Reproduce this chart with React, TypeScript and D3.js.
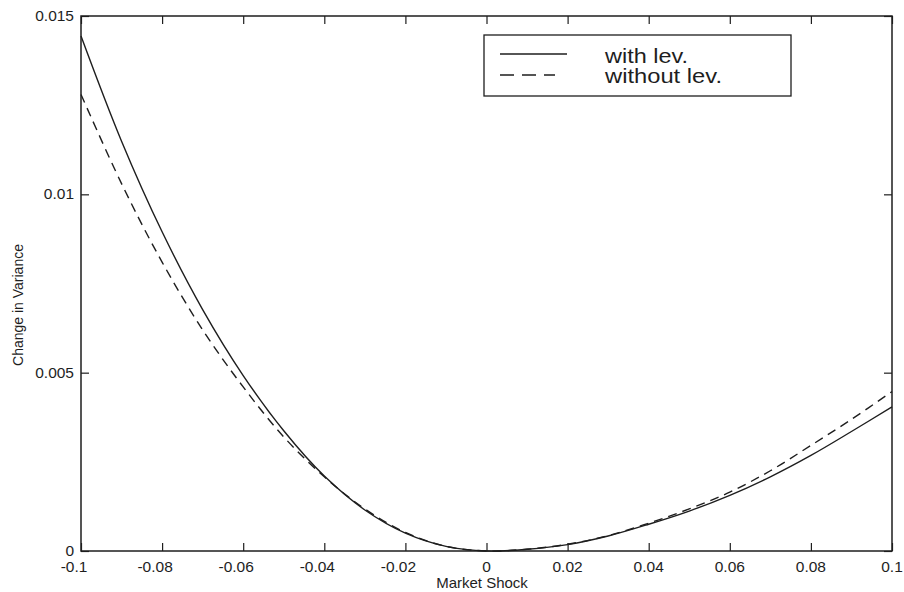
import * as d3 from "d3";
import { useRef, useEffect } from "react";

// market shock values (x axis)
const shocks = [
  -0.1, -0.09, -0.08, -0.07, -0.06, -0.05, -0.04, -0.03, -0.02, -0.01, 0,
  0.01, 0.02, 0.03, 0.04, 0.05, 0.06, 0.07, 0.08, 0.09, 0.1,
];
// change in variance, with leverage (solid)
const withLev = [
  0.01444, 0.01149, 0.00895, 0.00677, 0.00492, 0.00337, 0.0021, 0.00115,
  0.0005, 0.00013, 0.0, 0.00005, 0.00018, 0.00042, 0.00075, 0.00112, 0.00156,
  0.00208, 0.00268, 0.00335, 0.00404,
];
// change in variance, without leverage (dashed)
const withoutLev = [
  0.0128, 0.0103, 0.0081, 0.0062, 0.0046, 0.0032, 0.00208, 0.00118, 0.00052,
  0.00013, 0.0, 0.00005, 0.00019, 0.00043, 0.00078, 0.00118, 0.00165, 0.00225,
  0.00296, 0.00369, 0.00447,
];
const xTicks = [-0.1, -0.08, -0.06, -0.04, -0.02, 0, 0.02, 0.04, 0.06, 0.08, 0.1];
const yTicks = [0, 0.005, 0.01, 0.015];
const legendLabels = ["with lev.", "without lev."];

export default function App() {
  const svgRef = useRef<SVGSVGElement>(null);

  useEffect(() => {
    const width = 904;
    const height = 592;
    const left = 81;
    const right = 892;
    const top = 16;
    const bottom = 551;
    const ink = "#1e1e1e";
    const font = "'Liberation Sans', Arial, sans-serif";

    const svg = d3.select(svgRef.current);
    svg.selectAll("*").remove();
    svg.attr("width", width).attr("height", height).attr("viewBox", [0, 0, width, height]);

    const x = d3.scaleLinear().domain([-0.1, 0.1]).range([left, right]);
    const y = d3.scaleLinear().domain([0, 0.015]).range([bottom, top]);

    svg.append("rect").attr("width", width).attr("height", height).attr("fill", "#fff");

    // curves
    const line = d3
      .line<number>()
      .x((_, i) => x(shocks[i]))
      .y((d) => y(d))
      .curve(d3.curveCatmullRom);

    svg
      .append("path")
      .attr("d", line(withoutLev))
      .attr("fill", "none")
      .attr("stroke", ink)
      .attr("stroke-width", 1.4)
      .attr("stroke-dasharray", "9,6");

    svg
      .append("path")
      .attr("d", line(withLev))
      .attr("fill", "none")
      .attr("stroke", ink)
      .attr("stroke-width", 1.4);

    // frame with inward ticks on all sides
    const tickLen = 8;
    svg
      .append("g")
      .attr("transform", `translate(0,${bottom})`)
      .call(d3.axisTop(x).tickValues(xTicks).tickSize(tickLen).tickFormat(() => ""))
      .call((g) => g.select(".domain").remove());
    svg
      .append("g")
      .attr("transform", `translate(0,${top})`)
      .call(d3.axisBottom(x).tickValues(xTicks).tickSize(tickLen).tickFormat(() => ""))
      .call((g) => g.select(".domain").remove());
    svg
      .append("g")
      .attr("transform", `translate(${left},0)`)
      .call(d3.axisRight(y).tickValues(yTicks).tickSize(tickLen).tickFormat(() => ""))
      .call((g) => g.select(".domain").remove());
    svg
      .append("g")
      .attr("transform", `translate(${right},0)`)
      .call(d3.axisLeft(y).tickValues(yTicks).tickSize(tickLen).tickFormat(() => ""))
      .call((g) => g.select(".domain").remove());
    svg.selectAll(".tick line").attr("stroke", ink).attr("stroke-width", 1.2);

    svg
      .append("rect")
      .attr("x", left)
      .attr("y", top)
      .attr("width", right - left)
      .attr("height", bottom - top)
      .attr("fill", "none")
      .attr("stroke", ink)
      .attr("stroke-width", 1.5);

    // tick labels
    svg
      .append("g")
      .selectAll("text")
      .data(xTicks)
      .join("text")
      .attr("x", (d) => x(d) - (d < 0 ? 7 : 0))
      .attr("y", 572)
      .attr("text-anchor", "middle")
      .attr("font-family", font)
      .attr("font-size", 15.5)
      .attr("fill", ink)
      .text((d) => String(d));

    svg
      .append("g")
      .selectAll("text")
      .data(yTicks)
      .join("text")
      .attr("x", 74)
      .attr("y", (d) => y(d) + 5)
      .attr("text-anchor", "end")
      .attr("font-family", font)
      .attr("font-size", 15.5)
      .attr("fill", ink)
      .text((d) => String(d));

    // axis titles
    svg
      .append("text")
      .attr("x", 482)
      .attr("y", 588)
      .attr("text-anchor", "middle")
      .attr("font-family", font)
      .attr("font-size", 15)
      .attr("fill", ink)
      .text("Market Shock");

    svg
      .append("text")
      .attr("transform", "translate(23,305) rotate(-90)")
      .attr("text-anchor", "middle")
      .attr("font-family", font)
      .attr("font-size", 14)
      .attr("fill", ink)
      .text("Change in Variance");

    // legend
    const legend = svg.append("g");
    legend
      .append("rect")
      .attr("x", 484)
      .attr("y", 35)
      .attr("width", 307)
      .attr("height", 61)
      .attr("fill", "#fff")
      .attr("stroke", ink)
      .attr("stroke-width", 1.3);
    legend
      .append("line")
      .attr("x1", 500)
      .attr("x2", 567)
      .attr("y1", 54)
      .attr("y2", 54)
      .attr("stroke", ink)
      .attr("stroke-width", 1.4);
    legend
      .append("line")
      .attr("x1", 500)
      .attr("x2", 555)
      .attr("y1", 75)
      .attr("y2", 75)
      .attr("stroke", ink)
      .attr("stroke-width", 1.4)
      .attr("stroke-dasharray", "14,8");
    legend
      .selectAll("text")
      .data(legendLabels)
      .join("text")
      .attr("x", 605)
      .attr("y", (_, i) => 63 + i * 20)
      .attr("font-family", font)
      .attr("font-size", 20)
      .attr("textLength", (_, i) => (i === 0 ? 83 : 117))
      .attr("lengthAdjust", "spacingAndGlyphs")
      .attr("fill", ink)
      .text((d) => d);
  }, []);

  return <svg ref={svgRef} style={{ position: "absolute", left: 0, top: 0 }}></svg>;
}
